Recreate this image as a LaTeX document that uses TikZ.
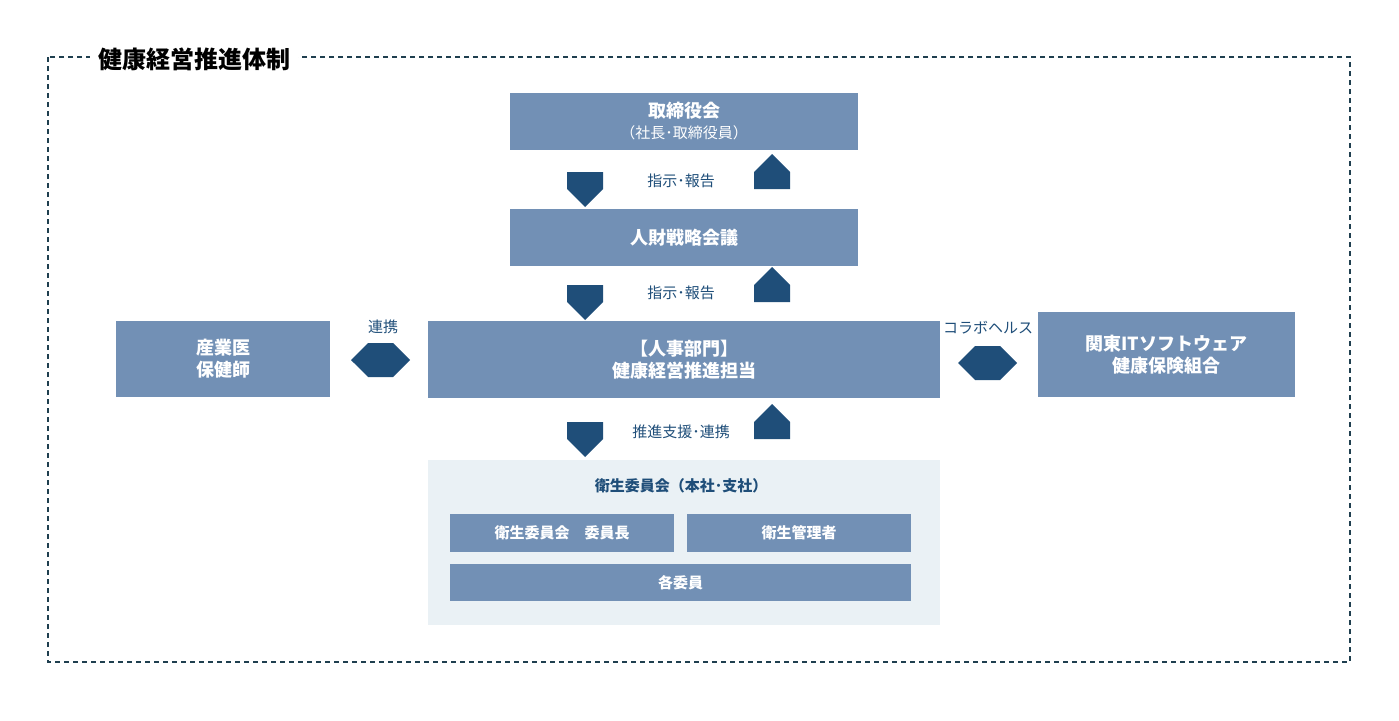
\documentclass[tikz,border=0pt]{standalone}
\usepackage{fontspec}
\setmainfont{Noto Sans CJK JP}
\usetikzlibrary{shapes.arrows}
\definecolor{boxc}{HTML}{7290B5}
\definecolor{arr}{HTML}{1F4E79}
\definecolor{panel}{HTML}{EAF1F5}
\definecolor{frame}{HTML}{1F3F4F}
\begin{document}
\begin{tikzpicture}[x=1pt,y=-1pt,
  box/.style={fill=boxc,draw=none,text=white,font=\bfseries\fontsize{18}{22}\selectfont,align=center,inner sep=0},
  sbox/.style={fill=boxc,draw=none,text=white,font=\bfseries\fontsize{15}{18}\selectfont,inner sep=0},
  lab/.style={text=arr,font=\fontsize{15}{18}\selectfont,inner sep=1pt},
  varr/.style={single arrow,fill=arr,draw=none,minimum width=36pt,single arrow head extend=0pt,single arrow tip angle=90,minimum height=35pt,inner sep=4pt},
  darr/.style={double arrow,fill=arr,draw=none,minimum width=34pt,double arrow head extend=0pt,minimum height=59pt,inner sep=4pt}]
\useasboundingbox (0,0) rectangle (1399,720);
\draw[frame,dashed,line width=1.3pt,dash pattern=on 5pt off 4pt] (48,57) rectangle (1350,662);
\node[fill=white,font=\bfseries\fontsize{24}{28}\selectfont,inner xsep=8pt,anchor=west] (title) at (90,59) {健康経営推進体制};
% boxes
\node[box,minimum width=348pt,minimum height=57pt] (b1) at (684,121.5) {\raisebox{0pt}{取締役会}\\[-1pt]{\normalfont\fontsize{15}{18}\selectfont（社長･取締役員）}};
\node[box,minimum width=348pt,minimum height=57pt] (b2) at (684,237.5) {人財戦略会議};
\node[box,minimum width=512pt,minimum height=77pt] (b3) at (684,359.5) {【人事部門】\\健康経営推進担当};
\node[box,minimum width=214pt,minimum height=76pt] (b4) at (223,359) {産業医\\保健師};
\node[box,minimum width=257pt,minimum height=85pt] (b5) at (1166.5,354.5) {関東ITソフトウェア\\健康保険組合};
% panel
\node[fill=panel,minimum width=512pt,minimum height=165pt,inner sep=0] (pn) at (684,542.5) {};
\node[text=arr,font=\bfseries\fontsize{15}{18}\selectfont] (pt) at (681,486) {衛生委員会（本社･支社）};
\node[sbox,minimum width=224pt,minimum height=38pt] (s1) at (562,533) {衛生委員会\hspace{1em}委員長};
\node[sbox,minimum width=224pt,minimum height=38pt] (s2) at (799,533) {衛生管理者};
\node[sbox,minimum width=461pt,minimum height=37pt] (s3) at (680.5,582.5) {各委員};
% vertical arrows
\foreach \y/\n in {180.5/a,293.5/b,430.5/c}{
  \node[varr,rotate=-90] (d\n) at (585,\y) {};
  \node[varr,rotate=90] (u\n) at (772,\y) {};
}
\node[lab] (l1) at (681,181) {指示･報告};
\node[lab] (l2) at (681,293) {指示･報告};
\node[lab] (l3) at (681,432) {推進支援･連携};
% horizontal double arrows
\node[darr] (h1) at (380.5,360) {};
\node[darr] (h2) at (987.5,363) {};
\node[lab] (l4) at (383,327) {連携};
\node[lab] (l5) at (988,328) {コラボヘルス};
\end{tikzpicture}
\end{document}
